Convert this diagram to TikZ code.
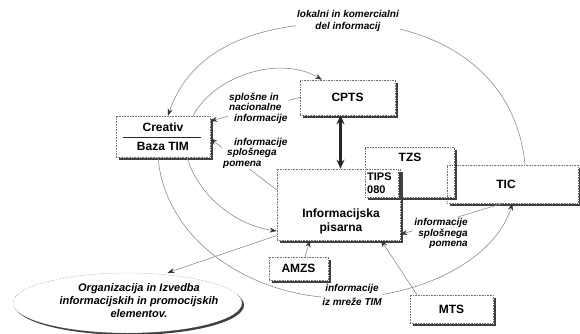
\documentclass[tikz,border=0pt]{standalone}
\usepackage{fontspec}
\setmainfont{Liberation Sans}
\usetikzlibrary{arrows.meta,shapes.geometric,shadows}
\newcommand\boxshadow[1]{\draw[line width=2pt,black!75] ([shift={(1.5,3)}]#1.north east) -- ([shift={(1.5,1.2)}]#1.south east) -- ([shift={(3,1.2)}]#1.south west);}
\tikzset{
  box/.style={draw=black!55,densely dotted,line width=0.6pt,inner sep=0pt,font=\fontsize{12}{14}\selectfont\bfseries},
  boxw/.style={box,fill=white},
  txt/.style={inner sep=0pt,font=\fontsize{12}{14}\selectfont\bfseries,align=center},
  lab/.style={fill=white,inner sep=1pt,font=\fontsize{10}{10.5}\selectfont\bfseries\itshape},
  con/.style={draw=black!45,line width=0.6pt,-{Stealth[length=7pt,width=5pt,color=black!80]}},
  thick2/.style={draw=black!85,line width=2.2pt,{Stealth[length=9pt,width=8pt]}-{Stealth[length=9pt,width=8pt]}}
}
\begin{document}
\begin{tikzpicture}[x=1pt,y=-1pt]
\useasboundingbox (0,0) rectangle (580,334);
% nodes (boxes)
\node[box,minimum width=131pt,minimum height=38pt] (tic) at (512.5,184) {};
\boxshadow{tic}
\node[txt] (ticT) at (506,184) {TIC};
\node[box,minimum width=89pt,minimum height=50pt] (tzs) at (409.5,172) {};
\boxshadow{tzs}
\node[txt] (tzsT) at (410,157) {TZS};
\node[boxw,minimum width=94pt,minimum height=41pt] (creativ) at (163,136.5) {};
\boxshadow{creativ}
\node[txt] (creaT) at (163,127) {Creativ};
\node[txt] (bazaT) at (163,146.5) {Baza TIM};
\draw[line width=0.9pt,black!85] ([shift={(7,1)}]creativ.west) coordinate (sepA) -- ([shift={(-9,1)}]creativ.east) coordinate (sepB);
\node[boxw,minimum width=95pt,minimum height=35pt] (cpts) at (347.5,97.5) {CPTS};
\boxshadow{cpts}
\node[boxw,minimum width=123pt,minimum height=71pt] (info) at (338.5,204.5) {};
\boxshadow{info}
\node[txt,font=\fontsize{12}{14}\selectfont\bfseries] (infoT) at (341,221.5) {Informacijska\\pisarna};
\node[boxw,minimum width=33pt,minimum height=28pt] (tips) at (381.5,183) {};
\boxshadow{tips}
\node[inner sep=0pt,font=\fontsize{11}{13}\selectfont\bfseries,align=left,anchor=west] (tipsT) at (367,183.5) {TIPS\\080};
\node[boxw,minimum width=59pt,minimum height=23pt] (amzs) at (298.5,268.5) {AMZS};
\boxshadow{amzs}
\node[boxw,minimum width=83pt,minimum height=28pt] (mts) at (451.5,309) {MTS};
\boxshadow{mts}
\node[ellipse,draw=black!55,densely dotted,fill=white,minimum width=229pt,minimum height=60pt,
      drop shadow={shadow xshift=2pt,shadow yshift=-2pt,fill=black!75,opacity=1}] (ell) at (127.5,303) {};
\node[inner sep=0pt,align=center,font=\fontsize{11}{13}\selectfont\bfseries\itshape] (ellT) at (139,300.5)
  {Organizacija in Izvedba\\informacijskih in promocijskih\\elementov.};
% connectors
\draw[con] ([shift={(12.5,0)}]tic.north) .. controls (515,60) and (420,22) .. (345,23)
   .. controls (255,22) and (190,50) .. ([shift={(5,0)}]creativ.north);
\draw[con] ([shift={(30,0)}]creativ.north) .. controls (215,75) and (280,55) .. ([shift={(-25.5,0)}]cpts.north);
\draw[con] (cpts.west) -- ([shift={(0,-15.5)}]creativ.east);
\draw[thick2] ([shift={(-7,0)}]cpts.south) -- ([shift={(-7,0)}]cpts.south |- info.north);
\draw[con] ([shift={(0,-14.5)}]info.west) -- ([shift={(0,2)}]creativ.east);
\draw[con] ([shift={(24,0)}]creativ.south) .. controls (200,200) and (240,226) .. ([shift={(0,26.5)}]info.west);
\draw[con] ([shift={(0,31)}]info.west) -- ([shift={(40,0)}]ell.north);
\draw[con] ([shift={(-5,0)}]creativ.south) .. controls (165,240) and (250,297) .. (340,298)
   .. controls (420,298) and (495,260) .. (tic.south);
\draw[con] ([shift={(-9.5,0)}]tic.south) -- ([shift={(0,30)}]info.east);
\draw[con] ([shift={(6.5,0)}]amzs.north) -- ([shift={(-28.5,0)}]info.south);
\draw[con] ([shift={(-34.5,0)}]mts.north) -- ([shift={(42.5,0)}]info.south);
% labels
\node[lab,align=center,font=\fontsize{10}{12}\selectfont\bfseries\itshape] (labA) at (348,21) {lokalni in komercialni\\del informacij};
\node[lab,align=left,anchor=west] (labB) at (228,108) {splošne in\\nacionalne\\\hspace*{5pt}informacije};
\node[lab,align=left,anchor=west] (labC) at (222,153) {\hspace*{11pt}informacije\\\hspace*{4pt}splošnega\\pomena};
\node[lab,align=right,anchor=east] (labD) at (469,233.5) {informacije\\splošnega\\pomena};
\node[lab,align=center,font=\fontsize{10}{14}\selectfont\bfseries\itshape] (labE) at (352,295) {informacije\\iz mreže TIM};
\end{tikzpicture}
\end{document}
